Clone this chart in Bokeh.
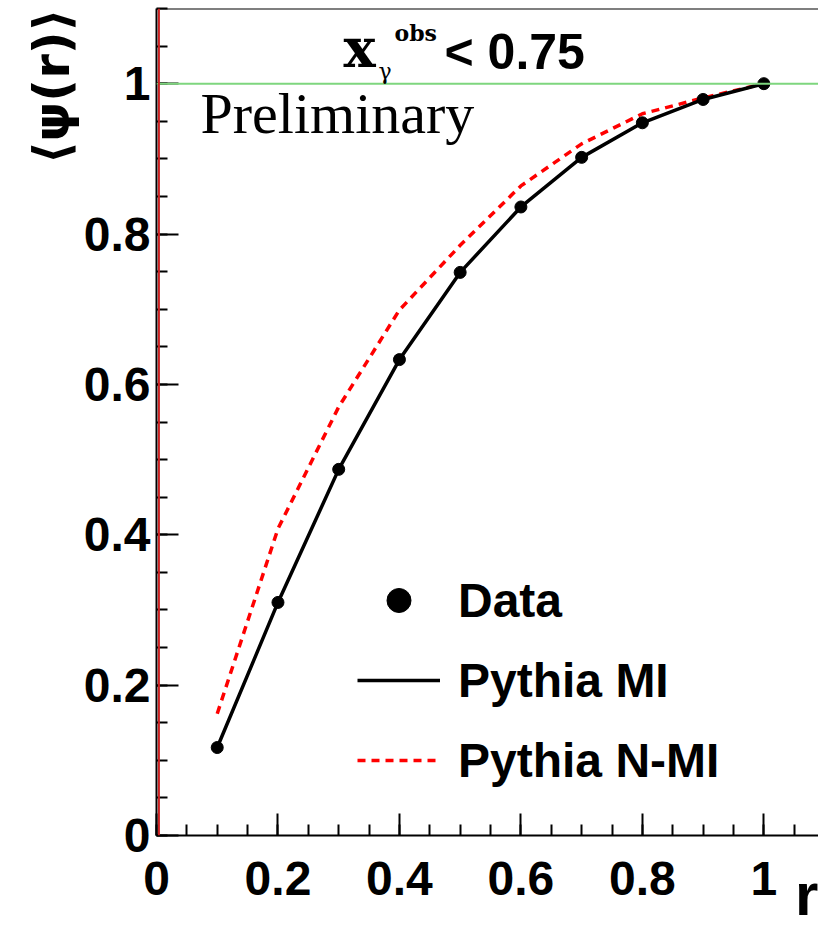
from bokeh.plotting import figure
from bokeh.models import (Range1d, FixedTicker, Span, Label, Legend, LegendItem,
                          ColumnDataSource, Title, LinearAxis)
from bokeh.embed import file_html
from bokeh.resources import INLINE

# ---- data ----
r_values = [0.1, 0.2, 0.3, 0.4, 0.5, 0.6, 0.7, 0.8, 0.9, 1.0]
data_psi = [0.117, 0.310, 0.487, 0.633, 0.749, 0.836, 0.902, 0.948, 0.979, 1.0]
pythia_mi = [0.117, 0.310, 0.487, 0.633, 0.749, 0.836, 0.902, 0.948, 0.979, 1.0]
pythia_nmi = [0.162, 0.408, 0.570, 0.699, 0.785, 0.864, 0.920, 0.960, 0.981, 1.0]

x_major = [0, 0.2, 0.4, 0.6, 0.8, 1.0]
x_labels = ["0", "0.2", "0.4", "0.6", "0.8", "1"]
x_minor = [i * 0.05 for i in range(0, 22)]
y_major = [0, 0.2, 0.4, 0.6, 0.8, 1.0]
y_labels = ["0", "0.2", "0.4", "0.6", "0.8", "1"]
y_minor = [i * 0.05 for i in range(0, 23)]
x_title_pos = [1.071]
x_title = ["r"]

SANS = "Liberation Sans"

p = figure(width=818, height=931, x_range=Range1d(0, 1.09), y_range=Range1d(0, 1.1),
           output_backend="svg", toolbar_location=None,
           min_border_left=156, min_border_right=0, min_border_top=8, min_border_bottom=96)
p.outline_line_color = None
p.grid.visible = False
p.background_fill_color = "white"
p.border_fill_color = "white"

for ax, ticks, labels, minor in ((p.xaxis[0], x_major, x_labels, x_minor),
                                 (p.yaxis[0], y_major, y_labels, y_minor)):
    ax.ticker = FixedTicker(ticks=ticks, minor_ticks=minor)
    ax.major_label_overrides = {t: l for t, l in zip(ticks, labels)}
    ax.major_tick_in = 22
    ax.major_tick_out = 0
    ax.minor_tick_in = 11
    ax.minor_tick_out = 0
    ax.major_tick_line_width = 2
    ax.minor_tick_line_width = 2
    ax.axis_line_width = 2
    ax.axis_line_color = "black"
    ax.major_label_text_font = SANS
    ax.major_label_text_font_style = "bold"
    ax.major_label_text_font_size = "48px"
    ax.major_label_text_color = "black"

p.xaxis.major_label_standoff = 26
p.yaxis.major_label_standoff = 6

# x-axis title "r" as a second, tick-less axis under the first one
r_axis = LinearAxis(ticker=FixedTicker(ticks=x_title_pos, minor_ticks=[]),
                    major_label_overrides={x_title_pos[0]: x_title[0]},
                    major_tick_in=0, major_tick_out=0, minor_tick_in=0, minor_tick_out=0,
                    axis_line_color=None, major_label_standoff=-37,
                    major_label_text_font=SANS, major_label_text_font_style="bold",
                    major_label_text_font_size="60px", major_label_text_color="black")
p.add_layout(r_axis, "below")

# y-axis title at the top left
p.add_layout(Title(text="⟨ψ(r)⟩", align="right", text_font="DejaVu Sans",
                   text_font_style="bold", text_font_size="50px", text_color="black",
                   standoff=0, offset=0), "left")

# frame top line and decorations
p.add_layout(Span(location=1.1, dimension="width", line_color="black", line_width=2))
p.add_layout(Span(location=1.0, dimension="width", line_color="#7ed67e", line_width=2))
p.add_layout(Span(location=0.004, dimension="height", line_color="#cc2222", line_width=2))

src = ColumnDataSource(dict(r=r_values, d=data_psi, mi=pythia_mi, nmi=pythia_nmi))
r_nmi = p.line("r", "nmi", source=src, line_color="red", line_width=3.5, line_dash="8 6")
r_mi = p.line("r", "mi", source=src, line_color="black", line_width=3.5)
r_data = p.scatter("r", "d", source=src, marker="circle", size=12, color="black")

legend = Legend(items=[LegendItem(label="Data", renderers=[r_data]),
                       LegendItem(label="Pythia MI", renderers=[r_mi]),
                       LegendItem(label="Pythia N-MI", renderers=[r_nmi])],
                location=(201, 45), glyph_width=83, glyph_height=60, label_height=60,
                spacing=20, label_standoff=18, padding=0, margin=0,
                border_line_color=None, background_fill_alpha=0,
                label_text_font=SANS, label_text_font_style="bold",
                label_text_color="black",
                label_text_font_size="48px", label_text_baseline="middle")
p.add_layout(legend)

# texts inside the frame
p.add_layout(Label(x=44, y=690, x_units="screen", y_units="screen", text="Preliminary",
                   text_font="Liberation Serif", text_font_size="58px", text_color="black"))
p.add_layout(Label(x=187, y=756, x_units="screen", y_units="screen", text="x",
                   text_font="DejaVu Serif", text_font_style="bold", text_font_size="54px",
                   text_color="black"))
p.add_layout(Label(x=238, y=790, x_units="screen", y_units="screen", text="obs",
                   text_font="DejaVu Serif", text_font_style="bold", text_font_size="22px",
                   text_color="black"))
p.add_layout(Label(x=222, y=752, x_units="screen", y_units="screen", text="γ",
                   text_font="DejaVu Serif", text_font_size="22px", text_color="black"))
p.add_layout(Label(x=288, y=756, x_units="screen", y_units="screen", text="< 0.75",
                   text_font=SANS, text_font_style="bold", text_font_size="50px",
                   text_color="black"))

open("out.html", "w").write(file_html(p, INLINE))
